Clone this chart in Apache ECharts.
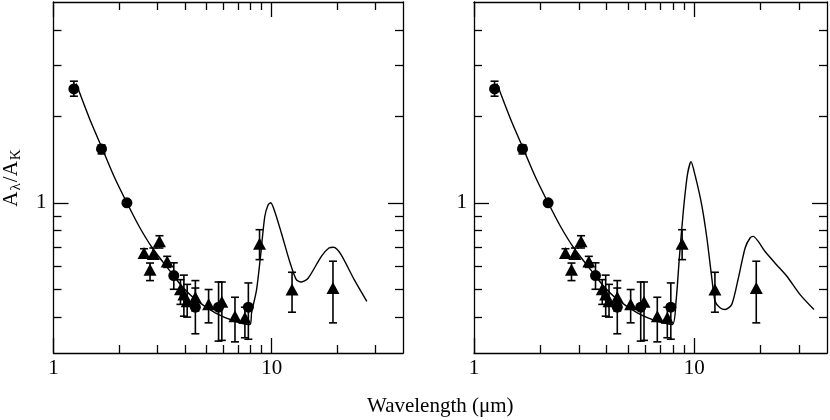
<!DOCTYPE html>
<html>
<head>
<meta charset="utf-8">
<script src="https://cdn.jsdelivr.net/npm/echarts@6/dist/echarts.min.js"></script>
<style>
  html, body { margin: 0; padding: 0; background: #fff; }
  #chart { width: 830px; height: 420px; }
</style>
</head>
<body>
<div id="chart"></div>
<script>
// extinction curve A_lambda / A_K, two model variants, same photometry
const circLam = [1.24, 1.66, 2.17, 3.56, 4.47, 5.71, 7.82]
const circA   = [2.49, 1.54, 1.00, 0.558, 0.433, 0.433, 0.433]
const circLo  = [2.35, 1.48, 1.00, 0.50, 0.35, 0.33, 0.335]
const circHi  = [2.65, 1.59, 1.00, 0.618, 0.505, 0.53, 0.526]

const triLam = [2.60, 2.87, 3.06, 2.77, 3.32, 3.82, 3.96, 4.10, 4.47, 5.14, 5.91, 6.79, 7.54, 8.80, 12.4, 19.1]
const triA   = [0.669, 0.664, 0.734, 0.585, 0.625, 0.50, 0.479, 0.454, 0.469, 0.443, 0.452, 0.403, 0.398, 0.72, 0.499, 0.505]
const triLo  = [0.648, 0.643, 0.696, 0.536, 0.596, 0.443, 0.403, 0.40, 0.42, 0.382, 0.332, 0.328, 0.339, 0.634, 0.416, 0.382]
const triHi  = [0.692, 0.696, 0.768, 0.617, 0.651, 0.54, 0.56, 0.52, 0.536, 0.499, 0.53, 0.469, 0.433, 0.806, 0.573, 0.626]

// model curve: near-IR part shared by both panels
const modelShortLam = [1.27, 1.46, 1.67, 1.90, 2.17, 2.47, 2.84, 3.38, 3.88, 4.47, 5.51, 6.79, 7.95]
const modelShortA   = [2.60, 1.97, 1.55, 1.23, 1.00, 0.827, 0.696, 0.585, 0.512, 0.461, 0.414, 0.387, 0.377]

const leftTailLam = [8.09, 8.53, 8.89, 9.30, 9.64, 9.90, 10.33, 11.08, 12.09, 12.97, 13.6, 14.66, 16.9, 18.3, 19.25, 20.8, 23.9, 27.3]
const leftTailA   = [0.414, 0.499, 0.651, 0.896, 0.984, 1.00, 0.933, 0.785, 0.625, 0.54, 0.53, 0.545, 0.651, 0.696, 0.70, 0.66, 0.54, 0.454]

const rightTailLam = [8.26, 8.55, 8.91, 9.30, 9.66, 10.07, 10.8, 11.4, 12.0, 12.42, 13.08, 13.8, 14.79, 15.85, 17.0, 17.9, 18.5, 19.5, 20.9, 23.6, 26.3, 30.2, 34.9]
const rightTailA   = [0.454, 0.643, 0.933, 1.25, 1.39, 1.25, 0.984, 0.754, 0.548, 0.454, 0.431, 0.425, 0.443, 0.548, 0.696, 0.754, 0.764, 0.734, 0.678, 0.609, 0.555, 0.479, 0.425]

const xMajor = [1, 10]
const xMinor = [2, 3, 4, 5, 6, 7, 8, 9, 20, 30]
const yMajor = [1]
const yMinor = [0.4, 0.5, 0.6, 0.7, 0.8, 0.9, 2, 3, 4]

const FONT = 'Liberation Serif'
const ink = '#000'

const zip = (a, b) => a.map((v, i) => [v, b[i]])
const zip3 = (a, b, c) => a.map((v, i) => [v, b[i], c[i]])

const grids = [
  {left: 50, top: 2, width: 353, height: 351},
  {left: 474, top: 2, width: 353, height: 351}
]

function xAx(gi, pos, ticks, len, label, line){
  return {
    type: 'log', logBase: 10, min: 1, max: 40, gridIndex: gi, position: pos,
    axisLine: {show: line, lineStyle: {color: ink, width: 1.3}},
    axisTick: {show: true, inside: true, length: len, customValues: ticks, lineStyle: {color: ink, width: 1.3}},
    axisLabel: label ? {show: true, customValues: ticks, margin: 5, color: ink, fontFamily: FONT, fontSize: 21} : {show: false},
    splitLine: {show: false}, minorTick: {show: false}
  }
}
function yAx(gi, pos, ticks, len, label, line, extra){
  return Object.assign({
    type: 'log', logBase: 10, min: 0.3, max: 5, gridIndex: gi, position: pos,
    axisLine: {show: line, lineStyle: {color: ink, width: 1.3}},
    axisTick: {show: true, inside: true, length: len, customValues: ticks, lineStyle: {color: ink, width: 1.3}},
    axisLabel: label ? {show: true, customValues: ticks, margin: 7, color: ink, fontFamily: FONT, fontSize: 21} : {show: false},
    splitLine: {show: false}, minorTick: {show: false}
  }, extra || {})
}

const xAxes = [], yAxes = []
for(let g = 0; g < 2; g++){
  xAxes.push(xAx(g, 'bottom', xMajor, 15, true, true))
  xAxes.push(xAx(g, 'bottom', xMinor, 8, false, false))
  xAxes.push(xAx(g, 'top', xMajor, 15, false, true))
  xAxes.push(xAx(g, 'top', xMinor, 8, false, false))
  const nameOpt = g === 0 ? {
    name: '{a|A}{s|λ}{a|/A}{s|K}', nameLocation: 'middle', nameGap: 30, nameRotate: 90,
    nameTextStyle: {color: ink, fontFamily: FONT, fontSize: 21, rich: {
      a: {fontFamily: FONT, fontSize: 21, color: ink},
      s: {fontFamily: FONT, fontSize: 15, color: ink, verticalAlign: 'bottom', padding: [9, 1, 0, 1]}
    }}
  } : null
  yAxes.push(yAx(g, 'left', yMajor, 15, true, true, nameOpt))
  yAxes.push(yAx(g, 'left', yMinor, 8, false, false))
  yAxes.push(yAx(g, 'right', yMajor, 15, false, true))
  yAxes.push(yAx(g, 'right', yMinor, 8, false, false))
}

function errorBars(lam, lo, hi, g){
  return {
    type: 'custom', xAxisIndex: g * 4, yAxisIndex: g * 4,
    data: zip3(lam, lo, hi),
    encode: {x: 0, y: [1, 2]},
    renderItem(params, api){
      const a = api.coord([api.value(0), api.value(1)])
      const b = api.coord([api.value(0), api.value(2)])
      const w = 4
      const st = {stroke: ink, lineWidth: 1.6}
      return {type: 'group', children: [
        {type: 'line', shape: {x1: a[0], y1: a[1], x2: b[0], y2: b[1]}, style: st},
        {type: 'line', shape: {x1: a[0] - w, y1: a[1], x2: a[0] + w, y2: a[1]}, style: st},
        {type: 'line', shape: {x1: b[0] - w, y1: b[1], x2: b[0] + w, y2: b[1]}, style: st}
      ]}
    },
    silent: true, z: 2
  }
}

const series = []
const tails = [[leftTailLam, leftTailA], [rightTailLam, rightTailA]]
for(let g = 0; g < 2; g++){
  const curve = zip(modelShortLam.concat(tails[g][0]), modelShortA.concat(tails[g][1]))
  series.push({
    type: 'line', xAxisIndex: g * 4, yAxisIndex: g * 4, data: curve,
    smooth: 0.25, showSymbol: false, lineStyle: {color: ink, width: 1.4}, z: 3, silent: true
  })
  series.push(errorBars(circLam, circLo, circHi, g))
  series.push(errorBars(triLam, triLo, triHi, g))
  series.push({
    type: 'scatter', xAxisIndex: g * 4, yAxisIndex: g * 4, data: zip(circLam, circA),
    symbol: 'circle', symbolSize: 11, itemStyle: {color: ink, opacity: 1}, z: 4, silent: true
  })
  series.push({
    type: 'scatter', xAxisIndex: g * 4, yAxisIndex: g * 4, data: zip(triLam, triA),
    symbol: 'triangle', symbolSize: [13, 12], itemStyle: {color: ink, opacity: 1}, z: 4, silent: true
  })
}

const chart = echarts.init(document.getElementById('chart'), null, {renderer: 'canvas'})
chart.setOption({
  backgroundColor: '#fff',
  animation: false,
  title: {
    text: 'Wavelength (μm)', left: 362, top: 391,
    textStyle: {color: ink, fontFamily: FONT, fontSize: 21, fontWeight: 'normal'}
  },
  grid: grids,
  xAxis: xAxes,
  yAxis: yAxes,
  series
})
</script>
</body>
</html>
